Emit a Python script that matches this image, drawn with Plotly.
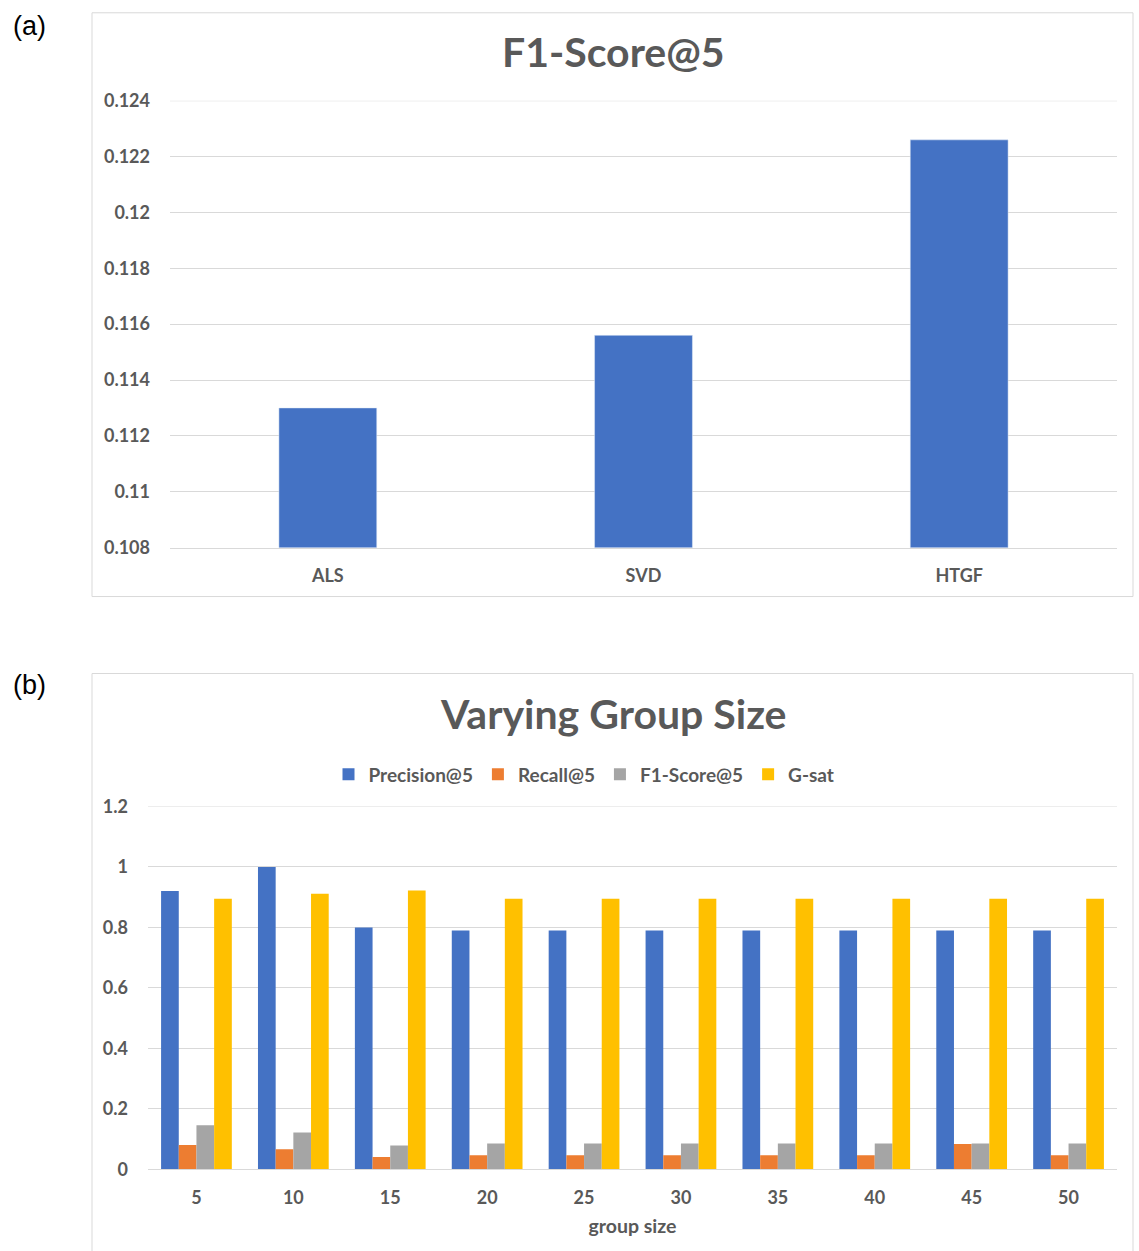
import plotly.graph_objects as go

# ---- data ----
methods = ["ALS", "SVD", "HTGF"]
f1_at5 = [0.1130, 0.1156, 0.1226]

group_sizes = ["5", "10", "15", "20", "25", "30", "35", "40", "45", "50"]
precision5 = [0.92, 1.00, 0.80, 0.79, 0.79, 0.79, 0.79, 0.79, 0.79, 0.79]
recall5 = [0.080, 0.066, 0.041, 0.046, 0.046, 0.046, 0.046, 0.046, 0.084, 0.046]
f1score5 = [0.146, 0.122, 0.079, 0.085, 0.085, 0.085, 0.085, 0.085, 0.085, 0.085]
gsat = [0.895, 0.911, 0.922, 0.895, 0.895, 0.895, 0.895, 0.895, 0.895, 0.895]

top_range = [0.108, 0.124]
bottom_range = [0, 1.2]

W, H = 1139, 1262
SQ, OFF = 0.983, 11.4  # vertical compensation for page capture


def px(x):
    return x / W


def py(y):
    return 1 - (y / SQ - OFF) / H


GRAY = "#595959"
GRID = "#d9d9d9"
FONT = "Lato"

fig = go.Figure()

fig.add_trace(go.Bar(x=methods, y=f1_at5, marker_color="#4472C4", width=0.31,
                     xaxis="x", yaxis="y", showlegend=False, name="F1-Score@5"))

series = [("Precision@5", precision5, "#4472C4"),
          ("Recall@5", recall5, "#ED7D31"),
          ("F1-Score@5", f1score5, "#A5A5A5"),
          ("G-sat", gsat, "#FFC000")]
for name, vals, col in series:
    fig.add_trace(go.Bar(x=group_sizes, y=vals, name=name, marker_color=col,
                         marker_line_width=0, xaxis="x2", yaxis="y2"))

tickfont = dict(family=FONT, size=18, color=GRAY, weight="bold")

fig.update_layout(
    width=W, height=H,
    margin=dict(l=0, r=0, t=0, b=0),
    paper_bgcolor="white", plot_bgcolor="white",
    barmode="group",
    bargap=0.27, bargroupgap=0,
    xaxis=dict(domain=[px(170), px(1117)], anchor="y", tickfont=tickfont,
               showgrid=False, showline=True, linecolor=GRID,
               ticks="outside", ticklen=12, tickcolor="rgba(0,0,0,0)"),
    yaxis=dict(domain=[py(547), py(100)], anchor="x", range=top_range,
               tick0=0.108, dtick=0.002, tickfont=tickfont, gridcolor=GRID, zeroline=False,
               showline=False, ticklabelstandoff=19),
    xaxis2=dict(domain=[px(148), px(1117)], anchor="y2", tickfont=tickfont,
                showgrid=False, showline=True, linecolor=GRID,
                ticks="outside", ticklen=12, tickcolor="rgba(0,0,0,0)",
                title=dict(text="group size", font=dict(family=FONT, size=19.5, color=GRAY, weight="bold"),
                           standoff=12)),
    yaxis2=dict(domain=[py(1169), py(806)], anchor="x2", range=bottom_range,
                dtick=0.2, tickfont=tickfont, gridcolor=GRID, zeroline=False,
                showline=False, ticklabelstandoff=19),
    legend=dict(orientation="h", x=px(584), xanchor="center", y=py(774), yanchor="middle",
                font=dict(family=FONT, size=19, color=GRAY, weight="bold"),
                itemwidth=30, tracegroupgap=0),
    shapes=[
        dict(type="rect", xref="paper", yref="paper", x0=px(92), x1=px(1133), y0=py(596), y1=py(12),
             line=dict(color=GRID, width=1), fillcolor="rgba(0,0,0,0)", layer="below"),
        dict(type="rect", xref="paper", yref="paper", x0=px(92), x1=px(1133), y0=-0.01, y1=py(673),
             line=dict(color=GRID, width=1), fillcolor="rgba(0,0,0,0)", layer="below"),
        # top gridlines at upper range edge
        dict(type="line", xref="x domain", yref="y", x0=0, x1=1, y0=top_range[1], y1=top_range[1],
             line=dict(color=GRID, width=1), layer="below"),
        dict(type="line", xref="x2 domain", yref="y2", x0=0, x1=1, y0=bottom_range[1], y1=bottom_range[1],
             line=dict(color=GRID, width=1), layer="below"),
    ],
    annotations=[
        dict(text="F1-Score@5", xref="paper", yref="paper", x=px(613), y=py(51),
             xanchor="center", yanchor="middle",
             showarrow=False, font=dict(family=FONT, size=41, color=GRAY, weight="bold")),
        dict(text="Varying Group Size", xref="paper", yref="paper", x=px(613), y=py(713),
             xanchor="center", yanchor="middle",
             showarrow=False, font=dict(family=FONT, size=41, color=GRAY, weight="bold")),
        dict(text="(a)", xref="paper", yref="paper", x=px(11), y=py(25), xanchor="left", yanchor="middle",
             showarrow=False, font=dict(family="Liberation Sans", size=27, color="black")),
        dict(text="(b)", xref="paper", yref="paper", x=px(11), y=py(685), xanchor="left", yanchor="middle",
             showarrow=False, font=dict(family="Liberation Sans", size=27, color="black")),
    ],
)

fig.write_html("out.html", config={"displayModeBar": False},
               post_script="document.body.style.margin='0';")
